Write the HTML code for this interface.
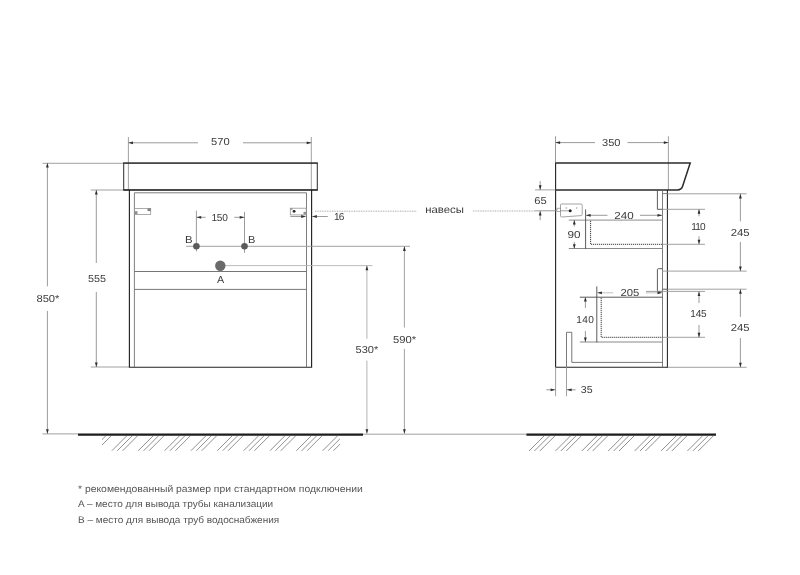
<!DOCTYPE html>
<html><head><meta charset="utf-8"><title>Схема</title>
<style>
html,body{margin:0;padding:0;background:#fff;}
body{width:800px;height:575px;overflow:hidden;}
svg{display:block;font-family:"Liberation Sans",sans-serif;filter:blur(0.3px);text-rendering:geometricPrecision;}
</style></head><body>
<svg width="800" height="575" viewBox="0 0 800 575">
<rect width="800" height="575" fill="#ffffff"/>
<line x1="128.4" y1="137" x2="128.4" y2="190" stroke="#969696" stroke-width="0.9" />
<line x1="311.3" y1="137" x2="311.3" y2="190" stroke="#969696" stroke-width="0.9" />
<line x1="128.4" y1="142.8" x2="198" y2="142.8" stroke="#909090" stroke-width="0.9" />
<line x1="243" y1="142.8" x2="311.3" y2="142.8" stroke="#909090" stroke-width="0.9" />
<polygon points="128.4,142.8 133.0,141.4 133.0,144.20000000000002" fill="#2e2e2e"/>
<polygon points="311.3,142.8 306.7,141.4 306.7,144.20000000000002" fill="#2e2e2e"/>
<text x="211.1" y="145.1" font-size="10.1" fill="#3c3c3c" textLength="18.6" lengthAdjust="spacingAndGlyphs">570</text>
<line x1="42.5" y1="163.3" x2="123.6" y2="163.3" stroke="#969696" stroke-width="0.9" />
<line x1="42.5" y1="433.9" x2="78" y2="433.9" stroke="#969696" stroke-width="0.9" />
<line x1="47.4" y1="163" x2="47.4" y2="286.3" stroke="#909090" stroke-width="0.9" />
<line x1="47.4" y1="311" x2="47.4" y2="433.8" stroke="#909090" stroke-width="0.9" />
<polygon points="47.4,163 46.0,167.6 48.8,167.6" fill="#2e2e2e"/>
<polygon points="47.4,433.8 46.0,429.2 48.8,429.2" fill="#2e2e2e"/>
<text x="36.4" y="302.3" font-size="10.1" fill="#3c3c3c" textLength="23.1" lengthAdjust="spacingAndGlyphs">850*</text>
<line x1="90.8" y1="190" x2="129" y2="190" stroke="#969696" stroke-width="0.9" />
<line x1="90.8" y1="367" x2="129" y2="367" stroke="#969696" stroke-width="0.9" />
<line x1="96.3" y1="190" x2="96.3" y2="263" stroke="#909090" stroke-width="0.9" />
<line x1="96.3" y1="291.9" x2="96.3" y2="367" stroke="#909090" stroke-width="0.9" />
<polygon points="96.3,190 94.89999999999999,194.6 97.7,194.6" fill="#2e2e2e"/>
<polygon points="96.3,367 94.89999999999999,362.4 97.7,362.4" fill="#2e2e2e"/>
<text x="87.9" y="282.3" font-size="10.1" fill="#3c3c3c" textLength="18.0" lengthAdjust="spacingAndGlyphs">555</text>
<rect x="123.7" y="163.1" width="193.6" height="26.8" fill="none" stroke="#333" stroke-width="1.05"/>
<line x1="123.2" y1="163.1" x2="317.8" y2="163.1" stroke="#333" stroke-width="1.45" />
<line x1="123.2" y1="189.9" x2="317.8" y2="189.9" stroke="#333" stroke-width="1.45" />
<path d="M129.4,189.8 V367.2 H311.6 V189.8" stroke="#222" stroke-width="1.15" fill="none" />
<path d="M134.4,367 V192.8 H306.5 V367" stroke="#5e5e5e" stroke-width="0.8" fill="none" />
<line x1="134.4" y1="271.5" x2="306.4" y2="271.5" stroke="#666" stroke-width="0.9" />
<line x1="134.4" y1="289.4" x2="306.4" y2="289.4" stroke="#666" stroke-width="0.9" />
<rect x="134.6" y="208.4" width="16.1" height="6" fill="none" stroke="#969696" stroke-width="0.8"/>
<rect x="134.6" y="211.2" width="2.9" height="3" fill="#909090"/>
<rect x="147.5" y="208.4" width="3.2" height="2.7" fill="#808080"/>
<rect x="290.3" y="208.2" width="15.9" height="6.7" fill="none" stroke="#969696" stroke-width="0.8"/>
<circle cx="294.1" cy="211.3" r="1.4" fill="#222"/>
<rect x="290.5" y="208.2" width="2" height="1.6" fill="#909090"/>
<rect x="303.5" y="211.9" width="2.6" height="2.6" fill="#909090"/>
<line x1="196.4" y1="210.6" x2="196.4" y2="251.4" stroke="#909090" stroke-width="0.9" />
<line x1="244.5" y1="211.9" x2="244.5" y2="252.8" stroke="#909090" stroke-width="0.9" />
<line x1="196.4" y1="217.3" x2="205.6" y2="217.3" stroke="#909090" stroke-width="0.9" />
<line x1="234.4" y1="217.3" x2="244.5" y2="217.3" stroke="#909090" stroke-width="0.9" />
<polygon points="196.6,217.3 201.2,215.9 201.2,218.70000000000002" fill="#2e2e2e"/>
<polygon points="244.3,217.3 239.70000000000002,215.9 239.70000000000002,218.70000000000002" fill="#2e2e2e"/>
<text x="211.4" y="220.8" font-size="10.1" fill="#3c3c3c" textLength="16.5" lengthAdjust="spacing">150</text>
<line x1="186.2" y1="246.3" x2="410" y2="246.3" stroke="#969696" stroke-width="0.9" />
<circle cx="196.4" cy="246.3" r="3.3" fill="#5a5a5a"/>
<circle cx="244.5" cy="246.3" r="3.3" fill="#5a5a5a"/>
<text x="185.0" y="243.3" font-size="10.1" fill="#3c3c3c" textLength="7.6" lengthAdjust="spacingAndGlyphs">B</text>
<text x="248.1" y="243.3" font-size="10.1" fill="#3c3c3c" textLength="7.4" lengthAdjust="spacingAndGlyphs">B</text>
<line x1="220.3" y1="265.6" x2="372.5" y2="265.6" stroke="#b4b4b4" stroke-width="0.9" />
<circle cx="220.3" cy="265.7" r="5.2" fill="#6a6a6a"/>
<text x="216.9" y="283.3" font-size="10.1" fill="#3c3c3c" textLength="7.2" lengthAdjust="spacingAndGlyphs">A</text>
<line x1="315" y1="211.2" x2="416.3" y2="211.2" stroke="#999" stroke-width="0.9" stroke-dasharray="0.9 0.8"/>
<line x1="473" y1="211" x2="535" y2="211" stroke="#999" stroke-width="0.9" stroke-dasharray="0.9 0.8"/>
<line x1="290.3" y1="216.5" x2="305.6" y2="216.5" stroke="#909090" stroke-width="0.9" />
<line x1="312.2" y1="216.5" x2="327.8" y2="216.5" stroke="#909090" stroke-width="0.9" />
<polygon points="305.8,216.5 301.2,215.1 301.2,217.9" fill="#2e2e2e"/>
<polygon points="312.2,216.5 316.8,215.1 316.8,217.9" fill="#2e2e2e"/>
<text x="334.1" y="219.95" font-size="10.1" fill="#3c3c3c" textLength="10.3" lengthAdjust="spacing">16</text>
<text x="425.2" y="213.2" font-size="10.4" fill="#3c3c3c" textLength="38.7" lengthAdjust="spacingAndGlyphs">навесы</text>
<line x1="366.9" y1="265.6" x2="366.9" y2="338.8" stroke="#aaa" stroke-width="0.9" />
<line x1="366.9" y1="360.6" x2="366.9" y2="433.8" stroke="#aaa" stroke-width="0.9" />
<polygon points="366.9,265.6 365.5,270.20000000000005 368.29999999999995,270.20000000000005" fill="#2e2e2e"/>
<polygon points="366.9,433.8 365.5,429.2 368.29999999999995,429.2" fill="#2e2e2e"/>
<text x="355.5" y="353.3" font-size="10.1" fill="#3c3c3c" textLength="22.75" lengthAdjust="spacingAndGlyphs">530*</text>
<line x1="404.4" y1="246.3" x2="404.4" y2="327.5" stroke="#999" stroke-width="0.9" />
<line x1="404.4" y1="348.8" x2="404.4" y2="433.8" stroke="#999" stroke-width="0.9" />
<polygon points="404.4,246.3 403.0,250.9 405.79999999999995,250.9" fill="#2e2e2e"/>
<polygon points="404.4,433.8 403.0,429.2 405.79999999999995,429.2" fill="#2e2e2e"/>
<text x="393.0" y="343.1" font-size="10.1" fill="#3c3c3c" textLength="23.1" lengthAdjust="spacingAndGlyphs">590*</text>
<line x1="363" y1="434.2" x2="526.4" y2="434.2" stroke="#969696" stroke-width="0.9" />
<line x1="78" y1="434.6" x2="363" y2="434.6" stroke="#1c1c1c" stroke-width="2.4" />
<clipPath id="c1"><rect x="102" y="436" width="238" height="14.8"/></clipPath>
<g clip-path="url(#c1)">
<line x1="100.25" y1="436" x2="85.25" y2="451" stroke="#7c7c7c" stroke-width="0.85" />
<line x1="105.65" y1="436" x2="90.65" y2="451" stroke="#7c7c7c" stroke-width="0.85" />
<line x1="111.05" y1="436" x2="96.05" y2="451" stroke="#7c7c7c" stroke-width="0.85" />
<line x1="126.6" y1="436" x2="111.6" y2="451" stroke="#7c7c7c" stroke-width="0.85" />
<line x1="132.0" y1="436" x2="117.0" y2="451" stroke="#7c7c7c" stroke-width="0.85" />
<line x1="137.4" y1="436" x2="122.4" y2="451" stroke="#7c7c7c" stroke-width="0.85" />
<line x1="152.95" y1="436" x2="137.95" y2="451" stroke="#7c7c7c" stroke-width="0.85" />
<line x1="158.35" y1="436" x2="143.35" y2="451" stroke="#7c7c7c" stroke-width="0.85" />
<line x1="163.75" y1="436" x2="148.75" y2="451" stroke="#7c7c7c" stroke-width="0.85" />
<line x1="179.3" y1="436" x2="164.3" y2="451" stroke="#7c7c7c" stroke-width="0.85" />
<line x1="184.7" y1="436" x2="169.7" y2="451" stroke="#7c7c7c" stroke-width="0.85" />
<line x1="190.1" y1="436" x2="175.1" y2="451" stroke="#7c7c7c" stroke-width="0.85" />
<line x1="205.65" y1="436" x2="190.65" y2="451" stroke="#7c7c7c" stroke-width="0.85" />
<line x1="211.05" y1="436" x2="196.05" y2="451" stroke="#7c7c7c" stroke-width="0.85" />
<line x1="216.45" y1="436" x2="201.45" y2="451" stroke="#7c7c7c" stroke-width="0.85" />
<line x1="232.0" y1="436" x2="217.0" y2="451" stroke="#7c7c7c" stroke-width="0.85" />
<line x1="237.4" y1="436" x2="222.4" y2="451" stroke="#7c7c7c" stroke-width="0.85" />
<line x1="242.8" y1="436" x2="227.8" y2="451" stroke="#7c7c7c" stroke-width="0.85" />
<line x1="258.35" y1="436" x2="243.35" y2="451" stroke="#7c7c7c" stroke-width="0.85" />
<line x1="263.75" y1="436" x2="248.75" y2="451" stroke="#7c7c7c" stroke-width="0.85" />
<line x1="269.15" y1="436" x2="254.15" y2="451" stroke="#7c7c7c" stroke-width="0.85" />
<line x1="284.7" y1="436" x2="269.7" y2="451" stroke="#7c7c7c" stroke-width="0.85" />
<line x1="290.1" y1="436" x2="275.1" y2="451" stroke="#7c7c7c" stroke-width="0.85" />
<line x1="295.5" y1="436" x2="280.5" y2="451" stroke="#7c7c7c" stroke-width="0.85" />
<line x1="311.05" y1="436" x2="296.05" y2="451" stroke="#7c7c7c" stroke-width="0.85" />
<line x1="316.45" y1="436" x2="301.45" y2="451" stroke="#7c7c7c" stroke-width="0.85" />
<line x1="321.85" y1="436" x2="306.85" y2="451" stroke="#7c7c7c" stroke-width="0.85" />
<line x1="337.4" y1="436" x2="322.4" y2="451" stroke="#7c7c7c" stroke-width="0.85" />
<line x1="342.8" y1="436" x2="327.8" y2="451" stroke="#7c7c7c" stroke-width="0.85" />
<line x1="348.2" y1="436" x2="333.2" y2="451" stroke="#7c7c7c" stroke-width="0.85" />
<line x1="363.75" y1="436" x2="348.75" y2="451" stroke="#7c7c7c" stroke-width="0.85" />
<line x1="369.15" y1="436" x2="354.15" y2="451" stroke="#7c7c7c" stroke-width="0.85" />
<line x1="374.55" y1="436" x2="359.55" y2="451" stroke="#7c7c7c" stroke-width="0.85" />
</g>
<line x1="555.5" y1="136.3" x2="555.5" y2="163" stroke="#909090" stroke-width="0.9" />
<line x1="668.4" y1="136.3" x2="668.4" y2="190" stroke="#969696" stroke-width="0.9" />
<line x1="555.5" y1="142.6" x2="595" y2="142.6" stroke="#909090" stroke-width="0.9" />
<line x1="627.5" y1="142.6" x2="668.4" y2="142.6" stroke="#909090" stroke-width="0.9" />
<polygon points="555.5,142.6 560.1,141.2 560.1,144.0" fill="#2e2e2e"/>
<polygon points="668.4,142.6 663.8,141.2 663.8,144.0" fill="#2e2e2e"/>
<text x="602.0" y="145.95" font-size="10.1" fill="#3c3c3c" textLength="18.5" lengthAdjust="spacingAndGlyphs">350</text>
<path d="M555.5,163 H690.2 L682.6,186.3 Q681.6,189.9 677.5,189.9 H555.5" stroke="#2b2b2b" stroke-width="1.5" fill="none" />
<path d="M555.6,163 V367.3 H667.5" stroke="#222" stroke-width="1.1" fill="none" />
<line x1="667.4" y1="189.9" x2="667.4" y2="367.9" stroke="#222" stroke-width="1.05" />
<line x1="662.5" y1="189.9" x2="662.5" y2="367.2" stroke="#6e6e6e" stroke-width="0.9" />
<line x1="662.5" y1="193.6" x2="667.5" y2="193.6" stroke="#6e6e6e" stroke-width="0.9" />
<line x1="662.5" y1="289.2" x2="667.5" y2="289.2" stroke="#4a4a4a" stroke-width="0.9" />
<path d="M657.4,189.9 V209.3 H662.5" stroke="#4a4a4a" stroke-width="0.9" fill="none" />
<path d="M662.5,268.7 H658.4 Q657.4,268.7 657.4,269.7 V290.4 Q657.4,291.4 658.4,291.4 H662.5" stroke="#4a4a4a" stroke-width="0.9" fill="none" />
<path d="M566.5,367 V332.3 H571.8 V362.4 H662.5" stroke="#6a6a6a" stroke-width="0.9" fill="none" />
<line x1="568.8" y1="220.1" x2="662.5" y2="220.1" stroke="#a4a4a4" stroke-width="1.4" />
<line x1="568.8" y1="248.5" x2="662.5" y2="248.5" stroke="#8a8a8a" stroke-width="1.2" />
<line x1="585.6" y1="209.4" x2="585.6" y2="248.8" stroke="#4a4a4a" stroke-width="0.9" />
<path d="M590.6,220.8 V244.3 H662.5" stroke="#2a2a2a" stroke-width="1.0" fill="none" stroke-dasharray="1.1 0.9"/>
<line x1="662.5" y1="244.3" x2="705" y2="244.3" stroke="#969696" stroke-width="0.9" />
<line x1="579.8" y1="297.2" x2="662.5" y2="297.2" stroke="#5a5a5a" stroke-width="1.0" />
<line x1="579.8" y1="342" x2="662.5" y2="342" stroke="#8a8a8a" stroke-width="1.2" />
<line x1="596.8" y1="286.4" x2="596.8" y2="342.3" stroke="#4a4a4a" stroke-width="0.9" />
<path d="M601.2,297.8 V337.3 H662.5" stroke="#2a2a2a" stroke-width="1.0" fill="none" stroke-dasharray="1.1 0.9"/>
<line x1="662.5" y1="337.3" x2="705" y2="337.3" stroke="#969696" stroke-width="0.9" />
<line x1="535" y1="189.9" x2="555.5" y2="189.9" stroke="#969696" stroke-width="0.9" />
<line x1="535" y1="210.8" x2="557" y2="210.8" stroke="#909090" stroke-width="0.9" />
<line x1="540.2" y1="181" x2="540.2" y2="189.9" stroke="#909090" stroke-width="0.9" />
<line x1="540.2" y1="211" x2="540.2" y2="220.2" stroke="#909090" stroke-width="0.9" />
<polygon points="540.2,189.9 538.8000000000001,185.3 541.6,185.3" fill="#2e2e2e"/>
<polygon points="540.2,211 538.8000000000001,215.6 541.6,215.6" fill="#2e2e2e"/>
<text x="534.2" y="204.0" font-size="10.1" fill="#3c3c3c" textLength="12.5" lengthAdjust="spacingAndGlyphs">65</text>
<path d="M561.5,204 H581.2 Q582.2,204 582.2,205 V214.6 Q582.2,215.5 581.2,215.6 L561.6,217 Q560.5,217 560.5,216 V205 Q560.5,204 561.5,204 Z" stroke="#9a9a9a" stroke-width="0.9" fill="none" />
<rect x="557" y="208.2" width="3.6" height="3.4" fill="none" stroke="#909090" stroke-width="0.7"/>
<line x1="560.5" y1="210.8" x2="570" y2="210.8" stroke="#969696" stroke-width="0.9" />
<circle cx="570.2" cy="210.8" r="1.5" fill="#222"/>
<path d="M565.4,208 H567.2 M566.3,207.1 V208.9 M575.7,208 H577.5 M576.6,207.1 V208.9" stroke="#aaa" stroke-width="0.6" fill="none" />
<line x1="585.5" y1="215.3" x2="607.5" y2="215.3" stroke="#909090" stroke-width="0.9" />
<line x1="640" y1="215.3" x2="662.3" y2="215.3" stroke="#909090" stroke-width="0.9" />
<polygon points="586,215.3 590.6,213.9 590.6,216.70000000000002" fill="#2e2e2e"/>
<polygon points="662.1,215.3 657.5,213.9 657.5,216.70000000000002" fill="#2e2e2e"/>
<text x="614.25" y="218.7" font-size="10.1" fill="#3c3c3c" textLength="19.35" lengthAdjust="spacingAndGlyphs">240</text>
<line x1="574.3" y1="220" x2="574.3" y2="226.5" stroke="#909090" stroke-width="0.9" />
<line x1="574.3" y1="242" x2="574.3" y2="248.8" stroke="#909090" stroke-width="0.9" />
<polygon points="574.3,220 572.9,224.6 575.6999999999999,224.6" fill="#2e2e2e"/>
<polygon points="574.3,248.8 572.9,244.20000000000002 575.6999999999999,244.20000000000002" fill="#2e2e2e"/>
<text x="567.5" y="238.1" font-size="10.1" fill="#3c3c3c" textLength="13.0" lengthAdjust="spacingAndGlyphs">90</text>
<line x1="662.5" y1="209.3" x2="705" y2="209.3" stroke="#969696" stroke-width="0.9" />
<line x1="699" y1="209.3" x2="699" y2="216.3" stroke="#909090" stroke-width="0.9" />
<line x1="699" y1="236.3" x2="699" y2="244.3" stroke="#909090" stroke-width="0.9" />
<polygon points="699,209.2 697.6,213.79999999999998 700.4,213.79999999999998" fill="#2e2e2e"/>
<polygon points="699,244.3 697.6,239.70000000000002 700.4,239.70000000000002" fill="#2e2e2e"/>
<text x="691.35" y="230.2" font-size="10.1" fill="#3c3c3c" textLength="14.35" lengthAdjust="spacing">110</text>
<line x1="667.5" y1="193.8" x2="746.6" y2="193.8" stroke="#969696" stroke-width="0.9" />
<line x1="662.5" y1="271.1" x2="746.6" y2="271.1" stroke="#969696" stroke-width="0.9" />
<line x1="740.4" y1="193.8" x2="740.4" y2="221.3" stroke="#909090" stroke-width="0.9" />
<line x1="740.4" y1="241.9" x2="740.4" y2="271.1" stroke="#909090" stroke-width="0.9" />
<polygon points="740.4,193.8 739.0,198.4 741.8,198.4" fill="#2e2e2e"/>
<polygon points="740.4,271.1 739.0,266.5 741.8,266.5" fill="#2e2e2e"/>
<text x="730.75" y="236.1" font-size="10.1" fill="#3c3c3c" textLength="18.85" lengthAdjust="spacingAndGlyphs">245</text>
<line x1="667.5" y1="289.2" x2="746.6" y2="289.2" stroke="#969696" stroke-width="0.9" />
<line x1="667.5" y1="367.3" x2="746.6" y2="367.3" stroke="#969696" stroke-width="0.9" />
<line x1="740.4" y1="289.2" x2="740.4" y2="316.9" stroke="#909090" stroke-width="0.9" />
<line x1="740.4" y1="338.1" x2="740.4" y2="367.3" stroke="#909090" stroke-width="0.9" />
<polygon points="740.4,289.2 739.0,293.8 741.8,293.8" fill="#2e2e2e"/>
<polygon points="740.4,367.3 739.0,362.7 741.8,362.7" fill="#2e2e2e"/>
<text x="730.75" y="331.45" font-size="10.1" fill="#3c3c3c" textLength="18.85" lengthAdjust="spacingAndGlyphs">245</text>
<line x1="646" y1="291.4" x2="705" y2="291.4" stroke="#969696" stroke-width="0.9" />
<line x1="699" y1="291.4" x2="699" y2="303.1" stroke="#909090" stroke-width="0.9" />
<line x1="699" y1="325" x2="699" y2="337.4" stroke="#909090" stroke-width="0.9" />
<polygon points="699,291.4 697.6,296.0 700.4,296.0" fill="#2e2e2e"/>
<polygon points="699,337.4 697.6,332.79999999999995 700.4,332.79999999999995" fill="#2e2e2e"/>
<text x="690.35" y="317.45" font-size="10.1" fill="#3c3c3c" textLength="16.35" lengthAdjust="spacing">145</text>
<line x1="596.8" y1="292.8" x2="613.2" y2="292.8" stroke="#bbb" stroke-width="0.9" />
<line x1="645.8" y1="292.8" x2="662.3" y2="292.8" stroke="#bbb" stroke-width="0.9" />
<polygon points="597.3,292.8 601.9,291.40000000000003 601.9,294.2" fill="#2e2e2e"/>
<polygon points="662.1,292.8 657.5,291.40000000000003 657.5,294.2" fill="#2e2e2e"/>
<text x="620.4" y="296.45" font-size="10.1" fill="#3c3c3c" textLength="18.85" lengthAdjust="spacingAndGlyphs">205</text>
<line x1="585.4" y1="297.3" x2="585.4" y2="308" stroke="#909090" stroke-width="0.9" />
<line x1="585.4" y1="331" x2="585.4" y2="342" stroke="#909090" stroke-width="0.9" />
<polygon points="585.4,297 584.0,301.6 586.8,301.6" fill="#2e2e2e"/>
<polygon points="585.4,342 584.0,337.4 586.8,337.4" fill="#2e2e2e"/>
<text x="576.2" y="322.7" font-size="10.1" fill="#3c3c3c" textLength="17.6" lengthAdjust="spacing">140</text>
<line x1="555.6" y1="367.2" x2="555.6" y2="396.3" stroke="#969696" stroke-width="0.9" />
<line x1="566.5" y1="367.2" x2="566.5" y2="396.3" stroke="#969696" stroke-width="0.9" />
<line x1="546.3" y1="389.8" x2="555.6" y2="389.8" stroke="#909090" stroke-width="0.9" />
<line x1="566.5" y1="389.8" x2="575.6" y2="389.8" stroke="#909090" stroke-width="0.9" />
<polygon points="555.2,389.8 550.6,388.40000000000003 550.6,391.2" fill="#2e2e2e"/>
<polygon points="567,389.8 571.6,388.40000000000003 571.6,391.2" fill="#2e2e2e"/>
<text x="580.75" y="392.95" font-size="10.1" fill="#3c3c3c" textLength="11.85" lengthAdjust="spacingAndGlyphs">35</text>
<line x1="526.4" y1="434.6" x2="716" y2="434.6" stroke="#1c1c1c" stroke-width="2.4" />
<line x1="544.0" y1="436" x2="529.0" y2="451" stroke="#7c7c7c" stroke-width="0.85" />
<line x1="549.4" y1="436" x2="534.4" y2="451" stroke="#7c7c7c" stroke-width="0.85" />
<line x1="554.8" y1="436" x2="539.8" y2="451" stroke="#7c7c7c" stroke-width="0.85" />
<line x1="570.4" y1="436" x2="555.4" y2="451" stroke="#7c7c7c" stroke-width="0.85" />
<line x1="575.8" y1="436" x2="560.8" y2="451" stroke="#7c7c7c" stroke-width="0.85" />
<line x1="581.2" y1="436" x2="566.2" y2="451" stroke="#7c7c7c" stroke-width="0.85" />
<line x1="596.8" y1="436" x2="581.8" y2="451" stroke="#7c7c7c" stroke-width="0.85" />
<line x1="602.2" y1="436" x2="587.2" y2="451" stroke="#7c7c7c" stroke-width="0.85" />
<line x1="607.6" y1="436" x2="592.6" y2="451" stroke="#7c7c7c" stroke-width="0.85" />
<line x1="623.2" y1="436" x2="608.2" y2="451" stroke="#7c7c7c" stroke-width="0.85" />
<line x1="628.6" y1="436" x2="613.6" y2="451" stroke="#7c7c7c" stroke-width="0.85" />
<line x1="634.0" y1="436" x2="619.0" y2="451" stroke="#7c7c7c" stroke-width="0.85" />
<line x1="649.6" y1="436" x2="634.6" y2="451" stroke="#7c7c7c" stroke-width="0.85" />
<line x1="655.0" y1="436" x2="640.0" y2="451" stroke="#7c7c7c" stroke-width="0.85" />
<line x1="660.4" y1="436" x2="645.4" y2="451" stroke="#7c7c7c" stroke-width="0.85" />
<line x1="676.0" y1="436" x2="661.0" y2="451" stroke="#7c7c7c" stroke-width="0.85" />
<line x1="681.4" y1="436" x2="666.4" y2="451" stroke="#7c7c7c" stroke-width="0.85" />
<line x1="686.8" y1="436" x2="671.8" y2="451" stroke="#7c7c7c" stroke-width="0.85" />
<line x1="702.4" y1="436" x2="687.4" y2="451" stroke="#7c7c7c" stroke-width="0.85" />
<line x1="707.8" y1="436" x2="692.8" y2="451" stroke="#7c7c7c" stroke-width="0.85" />
<line x1="713.2" y1="436" x2="698.2" y2="451" stroke="#7c7c7c" stroke-width="0.85" />
<text x="78" y="491.5" font-size="9.6" fill="#555" textLength="284.8" lengthAdjust="spacingAndGlyphs">* рекомендованный размер при стандартном подключении</text>
<text x="78" y="507.4" font-size="9.6" fill="#555" textLength="195.2" lengthAdjust="spacingAndGlyphs">A – место для вывода трубы канализации</text>
<text x="78" y="523.4" font-size="9.6" fill="#555" textLength="201.2" lengthAdjust="spacingAndGlyphs">B – место для вывода труб водоснабжения</text>
</svg>
</body></html>
